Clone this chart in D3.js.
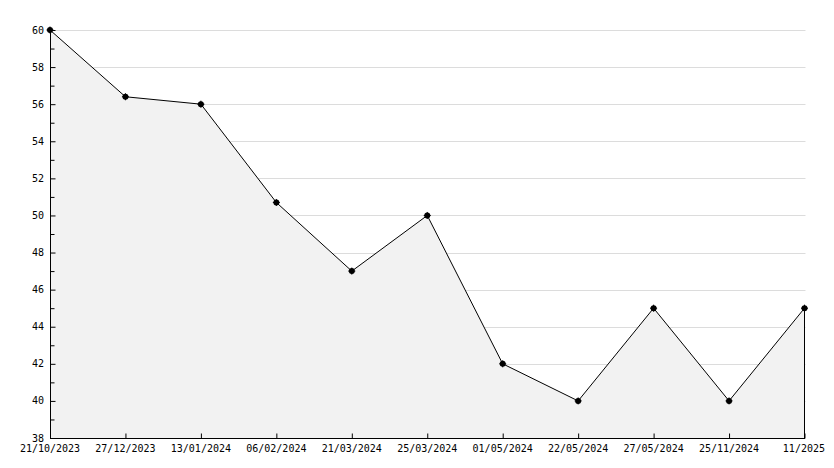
<!DOCTYPE html>
<html><head><meta charset="utf-8">
<script src="https://cdn.jsdelivr.net/npm/d3@7"></script>
<style>body{margin:0;background:#fff}svg{display:block}text{font-family:"DejaVu Sans Mono",monospace;font-size:10px;fill:#000}</style>
</head><body><svg id="c" width="834" height="468"></svg>
<script>
const categories=["21/10/2023","27/12/2023","13/01/2024","06/02/2024","21/03/2024","25/03/2024","01/05/2024","22/05/2024","27/05/2024","25/11/2024","11/2025"];
const values=[60,56.4,56,50.7,47,50,42,40,45,40,45];
const yTicks=[38,40,42,44,46,48,50,52,54,56,58,60];
const yMinor=[39,41,43,45,47,49,51,53,55,57,59];

const svg=d3.select("#c");
const L=50,R=804.5,T=30,B=438;
const x=d3.scalePoint().domain(categories).range([L,R]);
const y=d3.scaleLinear().domain([38,60]).range([B,T]);

const g=svg.append("g");
g.selectAll(".grid").data(yTicks.filter(d=>d>38)).join("line")
 .attr("x1",L).attr("x2",R+1).attr("y1",d=>Math.round(y(d))+0.5).attr("y2",d=>Math.round(y(d))+0.5)
 .attr("stroke","#dcdcdc").attr("stroke-width",1);
const pts=categories.map((c,i)=>[x(c),y(values[i])]);
g.append("path").datum(pts)
 .attr("d",d3.area().x(d=>d[0]).y0(B).y1(d=>d[1]))
 .attr("fill","#f2f2f2");
g.append("line").attr("x1",R).attr("x2",R).attr("y1",y(values[values.length-1])).attr("y2",B).attr("stroke","#000").attr("stroke-width",1);
const ya=g.append("g").attr("transform",`translate(${L+0.5},0)`).call(d3.axisRight(y).tickValues(yTicks).tickSize(5).tickFormat(""));
ya.select(".domain").remove();
ya.selectAll("line").attr("stroke","#000");
g.append("g").attr("transform",`translate(${L+0.5},0)`).call(d3.axisRight(y).tickValues(yMinor).tickSize(4).tickFormat("")).call(s=>{s.select(".domain").remove();s.selectAll("line").attr("stroke","#000");});
g.selectAll(".yl").data(yTicks).join("text").attr("x",44).attr("y",d=>y(d)).attr("dy","0.35em").attr("text-anchor","end").text(d=>d);
g.append("line").attr("x1",L+0.5).attr("x2",L+0.5).attr("y1",T).attr("y2",B+0.5).attr("stroke","#000");
const xa=g.append("g").attr("transform",`translate(0,${B+0.5})`).call(d3.axisTop(x).tickSize(5).tickFormat(""));
xa.select(".domain").remove();
xa.selectAll("line").attr("stroke","#000");
g.append("line").attr("x1",L).attr("x2",R+0.5).attr("y1",B+0.5).attr("y2",B+0.5).attr("stroke","#000");
g.selectAll(".xl").data(categories).join("text")
 .attr("x",(d,i)=>i===categories.length-1?825:x(d)).attr("y",452)
 .attr("text-anchor",(d,i)=>i===categories.length-1?"end":"middle").text(d=>d);
g.append("path").datum(pts).attr("d",d3.line()).attr("fill","none").attr("stroke","#000").attr("stroke-width",1);
const m=g.selectAll(".m").data(pts).join("g").attr("transform",d=>`translate(${d[0]},${d[1]})`);
m.append("circle").attr("r",3).attr("fill","#000");
m.append("path").attr("d","M-3.5,0H3.5M0,-3.5V3.5").attr("stroke","#000").attr("stroke-width",1);
</script></body></html>
